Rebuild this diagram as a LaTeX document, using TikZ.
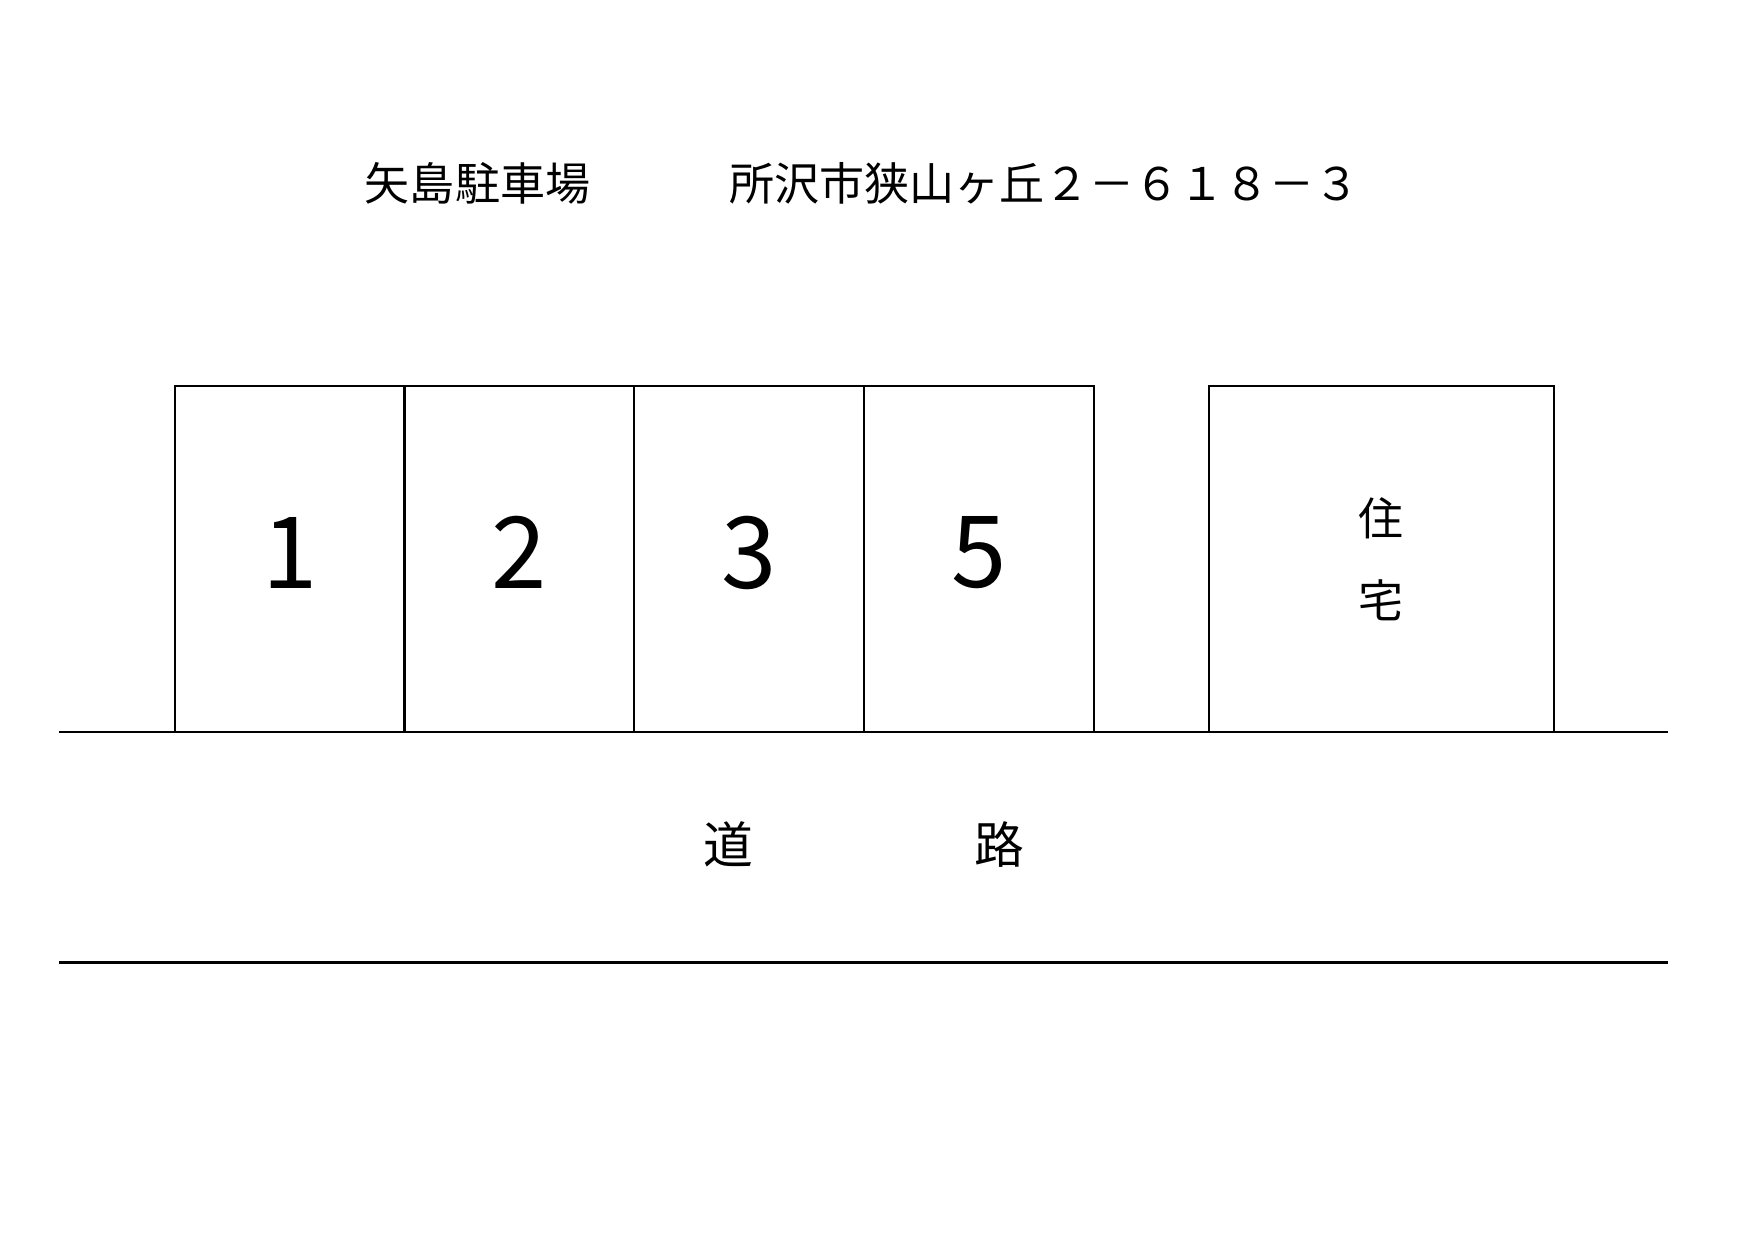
\documentclass[tikz,border=0pt]{standalone}
\usepackage{fontspec}
\setmainfont{Noto Sans CJK JP}

\begin{document}
\begin{tikzpicture}[line width=1.1pt,
	txt/.style={inner sep=0pt,font=\fontsize{21.7}{26}\selectfont},
	spotnum/.style={inner sep=0pt,font=\fontsize{48}{48}\selectfont}]
\useasboundingbox (0,0) rectangle (29.7,21);

%----------------------------
% Title: name and address
%----------------------------
\node[txt,anchor=west] (title) at (6.16,17.9) {矢島駐車場};
\node[txt,anchor=west] (address) at (12.33,17.9) {所沢市狭山ヶ丘２－６１８－３};

%----------------------------
% Parking spots
%----------------------------
\foreach \n [count=\i from 0] in {1,2,3,5}
{
	% spot frame
	\draw (2.96+3.89*\i,8.6) rectangle (6.85+3.89*\i,14.47);
	% spot number
	\node[spotnum] (spot\n) at (4.905+3.89*\i,11.645) {\n};
}

%----------------------------
% House
%----------------------------
\draw (20.47,8.6) rectangle (26.31,14.47);
\node[txt] (houseA) at (23.38,12.23) {住};
\node[txt] (houseB) at (23.38,10.84) {宅};

%----------------------------
% Road
%----------------------------
\coordinate (roadNW) at (1.0,8.6);
\coordinate (roadNE) at (28.24,8.6);
\coordinate (roadSW) at (1.0,4.7);
\coordinate (roadSE) at (28.24,4.7);
\draw (roadNW) -- (roadNE);
\draw (roadSW) -- (roadSE);
\node[txt,font=\fontsize{24}{28}\selectfont] (roadA) at (12.34,6.7) {道};
\node[txt,font=\fontsize{24}{28}\selectfont] (roadB) at (16.93,6.7) {路};

\end{tikzpicture}
\end{document}
